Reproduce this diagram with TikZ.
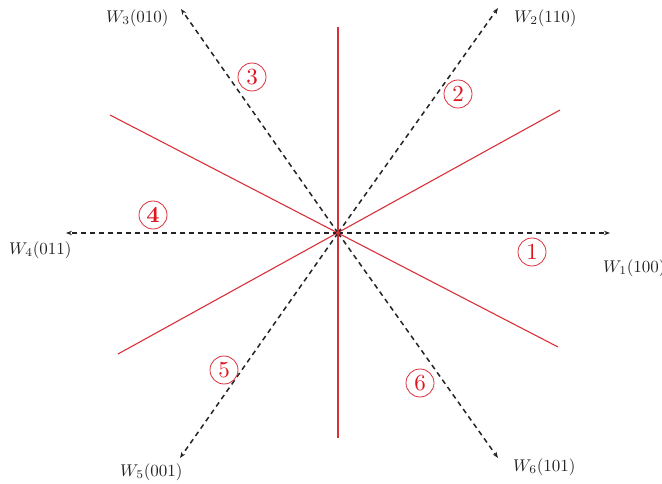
\documentclass[tikz,border=0pt]{standalone}
\usepackage{graphicx}
\usetikzlibrary{arrows.meta}
\definecolor{lred}{RGB}{218,48,58}
\definecolor{nred}{RGB}{222,20,32}
\definecolor{lblack}{RGB}{35,35,35}
\newcommand{\wlab}[1]{\scalebox{1.7}{$#1$}}
\newcommand{\nlab}[1]{\scalebox{2.3}{#1}}
\begin{document}
\begin{tikzpicture}[x=1pt,y=-1pt,
  axis/.style={lblack,line width=1.5pt,dash pattern=on 5pt off 4pt,-{Stealth[length=6pt,width=4.5pt]}},
  sect/.style={lred,line width=1.1pt},
  wlabel/.style={lblack,inner sep=0pt},
  num/.style={draw=lred,circle,line width=0.8pt,minimum size=28pt,inner sep=0pt,text=nred}
]
\useasboundingbox (0,0) rectangle (662,484);
\coordinate (o) at (338,233);
% red sector boundaries
\coordinate (rt) at (338,27);
\coordinate (rb) at (338,438);
\coordinate (rul) at (110,115);
\coordinate (rlr) at (558,347);
\coordinate (rur) at (560,110);
\coordinate (rll) at (118,354);
\draw[sect] (rt) -- (rb);
\draw[sect] (rul) -- (rlr);
\draw[sect] (rur) -- (rll);
% axis tips
\coordinate (t1) at (610,233);
\coordinate (t2) at (498,8);
\coordinate (t3) at (181,9);
\coordinate (t4) at (66,233);
\coordinate (t5) at (180,458);
\coordinate (t6) at (498,458);
\foreach \i in {1,...,6} \draw[axis] (o) -- (t\i);
\fill[lred] (o) circle (2pt);
% labels
\node[wlabel,anchor=west] (w1) at (603,268) {\wlab{W_1(100)}};
\node[wlabel,anchor=west] (w2) at (514,18) {\wlab{W_2(110)}};
\node[wlabel,anchor=west] (w3) at (106,18) {\wlab{W_3(010)}};
\node[wlabel,anchor=west] (w4) at (9,250) {\wlab{W_4(011)}};
\node[wlabel,anchor=west] (w5) at (120,472) {\wlab{W_5(001)}};
\node[wlabel,anchor=west] (w6) at (513,467) {\wlab{W_6(101)}};
% sector numbers
\node[num] (n1) at (532,252) {\nlab{1}};
\node[num] (n2) at (458,94) {\nlab{2}};
\node[num] (n3) at (252,77) {\nlab{3}};
\node[num] (n4) at (153,215) {\nlab{\textbf{4}}};
\node[num] (n5) at (224,370) {\nlab{5}};
\node[num] (n6) at (420,383) {\nlab{6}};
\end{tikzpicture}
\end{document}
